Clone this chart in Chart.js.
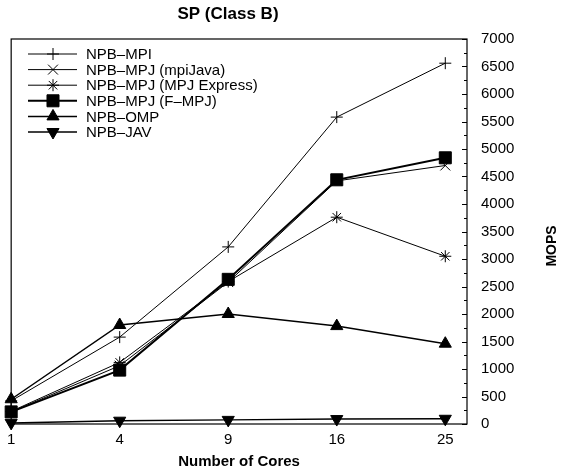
<!DOCTYPE html>
<html>
<head>
<meta charset="utf-8">
<script src="https://cdn.jsdelivr.net/npm/chart.js@4/dist/chart.umd.min.js"></script>
<style>
  html, body { margin: 0; padding: 0; background: #fff; }
  #wrap { width: 564px; height: 472px; }
</style>
</head>
<body>
<div id="wrap"><canvas id="myChart" width="564" height="472"></canvas></div>
<script>
// data
var cores = ["1", "4", "9", "16", "25"];
var npbMpi = [420, 1580, 3220, 5580, 6560];
var mpiJava = [220, 1060, 2580, 4420, 4700];
var mpjExpress = [230, 1120, 2590, 3760, 3050];
var fMpj = [220, 980, 2630, 4440, 4840];
var npbOmp = [450, 1800, 2000, 1780, 1460];
var npbJav = [20, 60, 75, 90, 95];
var yTicks = [0, 500, 1000, 1500, 2000, 2500, 3000, 3500, 4000, 4500, 5000, 5500, 6000, 6500, 7000];

var FONT = "'Liberation Sans', Arial, Helvetica, sans-serif";

function pts(arr) {
  return arr.map(function (v, i) { return { x: i, y: v }; });
}

function series(label, values, style, radius, width, rot) {
  return {
    label: label,
    data: pts(values),
    borderColor: "#000",
    backgroundColor: "#000",
    borderWidth: width,
    pointStyle: style,
    pointRadius: radius,
    pointHoverRadius: radius,
    pointRotation: rot || 0,
    pointBorderColor: "#000",
    pointBackgroundColor: "#000",
    pointBorderWidth: 1,
    tension: 0,
    fill: false,
    clip: false
  };
}

// box, inner ticks, titles, legend
var extras = {
  id: "extras",
  afterDraw: function (chart) {
    var ctx = chart.ctx;
    var a = chart.chartArea;
    var y = chart.scales.y;
    ctx.save();
    ctx.strokeStyle = "#000";
    ctx.lineWidth = 1.2;
    ctx.strokeRect(a.left, a.top, a.right - a.left, a.bottom - a.top);
    // ticks inside right axis
    ctx.lineWidth = 1;
    for (var v = 0; v <= 7000; v += 250) {
      var py = Math.round(y.getPixelForValue(v)) + 0.5;
      var len = (v % 500 === 0) ? 5 : 3;
      ctx.beginPath();
      ctx.moveTo(a.right - len, py);
      ctx.lineTo(a.right, py);
      ctx.stroke();
    }
    // titles
    ctx.fillStyle = "#000";
    ctx.textAlign = "center";
    ctx.textBaseline = "middle";
    ctx.font = "bold 17px " + FONT;
    ctx.fillText("SP (Class B)", 228, 14);
    ctx.save();
    ctx.translate(552, 246);
    ctx.rotate(-Math.PI / 2);
    ctx.font = "bold 14px " + FONT;
    ctx.fillText("MOPS", 0, 0);
    ctx.restore();
    // legend
    ctx.font = "15px " + FONT;
    ctx.textAlign = "left";
    chart.data.datasets.forEach(function (ds, i) {
      var ly = 54 + i * 15.6;
      ctx.strokeStyle = "#000";
      ctx.lineWidth = ds.borderWidth;
      ctx.beginPath();
      ctx.moveTo(28, ly);
      ctx.lineTo(77, ly);
      ctx.stroke();
      if (Chart.helpers && Chart.helpers.drawPoint) {
        ctx.save();
        ctx.strokeStyle = "#000";
        ctx.fillStyle = "#000";
        ctx.lineWidth = 1;
        Chart.helpers.drawPoint(ctx, {
          pointStyle: ds.pointStyle,
          radius: ds.pointRadius,
          rotation: ds.pointRotation,
          borderWidth: 1
        }, 53, ly);
        ctx.restore();
      }
      ctx.fillStyle = "#000";
      ctx.fillText(ds.label, 86, ly + 1);
    });
    ctx.restore();
  }
};

new Chart("myChart", {
  type: "line",
  data: {
    datasets: [
      series("NPB\u2013MPI", npbMpi, "cross", 6, 1),
      series("NPB\u2013MPJ (mpiJava)", mpiJava, "crossRot", 7, 1),
      series("NPB\u2013MPJ (MPJ Express)", mpjExpress, "star", 6, 1),
      series("NPB\u2013MPJ (F\u2013MPJ)", fMpj, "rect", 8.5, 2),
      series("NPB\u2013OMP", npbOmp, "triangle", 7, 1.5),
      series("NPB\u2013JAV", npbJav, "triangle", 7, 1.5, 180)
    ]
  },
  plugins: [extras],
  options: {
    responsive: false,
    animation: false,
    events: [],
    layout: { padding: { left: 8, top: 39, right: 0, bottom: 0 } },
    plugins: {
      legend: { display: false },
      title: { display: false },
      tooltip: { enabled: false }
    },
    scales: {
      x: {
        type: "linear",
        min: 0,
        max: 4.2,
        afterBuildTicks: function (s) {
          s.ticks = cores.map(function (c, i) { return { value: i }; });
        },
        afterFit: function (s) { s.height = 48; },
        grid: { display: true, drawOnChartArea: false, drawTicks: false },
        border: { display: false },
        ticks: {
          color: "#000",
          font: { family: FONT, size: 15 },
          padding: 7,
          maxRotation: 0,
          autoSkip: false,
          callback: function (v) { return cores[v]; }
        },
        title: {
          display: true,
          text: "Number of Cores",
          color: "#000",
          font: { family: FONT, size: 15, weight: "bold" },
          padding: { top: 0, bottom: 1 }
        }
      },
      y: {
        position: "right",
        min: 0,
        max: 7000,
        afterBuildTicks: function (s) {
          s.ticks = yTicks.map(function (v) { return { value: v }; });
        },
        afterFit: function (s) { s.width = 97; },
        grid: { display: true, drawOnChartArea: false, drawTicks: false },
        border: { display: false },
        ticks: {
          color: "#000",
          font: { family: FONT, size: 15 },
          padding: 14,
          callback: function (v) { return String(v); }
        }
      }
    }
  }
});
</script>
</body>
</html>
